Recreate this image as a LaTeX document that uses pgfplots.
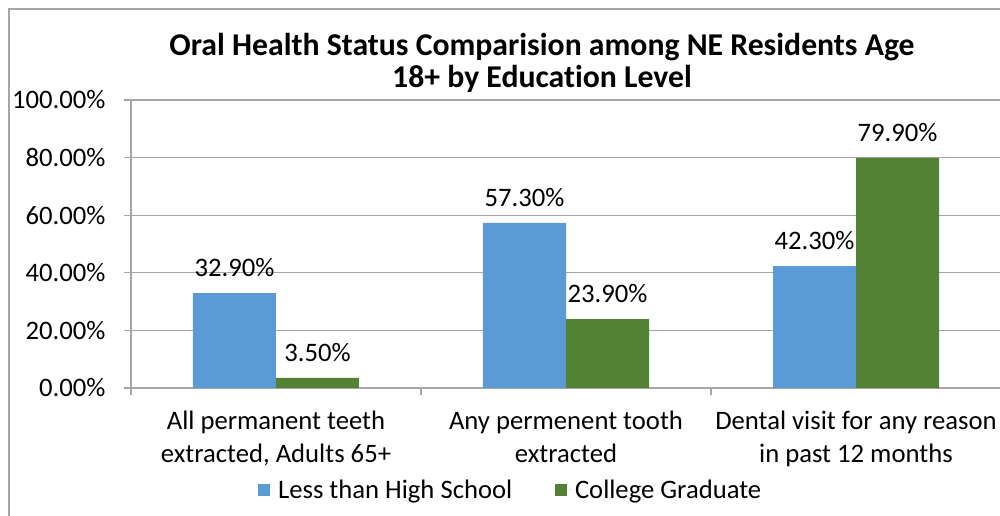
\documentclass[border=0pt]{standalone}
\usepackage{fontspec}
\setmainfont{Carlito}[Ligatures=CommonOff, Contextuals=AlternateOff]
\usepackage{pgfplots}
\pgfplotsset{compat=1.18}
\definecolor{barblue}{HTML}{5B9BD5}
\definecolor{bargreen}{HTML}{548235}
\definecolor{gridgray}{HTML}{A6A6A6}
\begin{document}
\begin{tikzpicture}
\begin{axis}[
  scale only axis, width=652.5pt, height=216pt,
  ybar=0pt, bar width=62.25pt,
  xmin=-0.5, xmax=2.5, ymin=0, ymax=100,
  xtick={0,1,2},
  xticklabels={{All permanent teeth\\extracted, Adults 65+},{Any permenent tooth\\extracted},{Dental visit for any reason\\in past 12 months}},
  major x tick style={draw=none},
  minor xtick={-0.5,0.5,1.5,2.5},
  ytick={0,20,40,60,80,100},
  axis x line*=bottom, axis y line*=left,
  axis line style={gridgray, line width=1pt, -},
  tick align=outside, tick style={gridgray, line width=1pt},
  major tick length=5pt, minor tick length=5pt,
  ymajorgrids, grid style={gridgray, line width=1pt},
  yticklabel={\pgfmathprintnumber[fixed,fixed zerofill,precision=2,assume math mode=true]{\tick}\%},
  yticklabel style={font=\fontsize{20}{23}\selectfont, inner sep=0pt, xshift=-14pt},
  xticklabel style={font=\fontsize{20}{24.75}\selectfont, align=center, inner sep=0pt, yshift=-12pt},
  nodes near coords={\pgfmathprintnumber[fixed,fixed zerofill,precision=2,assume math mode=true]{\pgfplotspointmeta}\%},
  every node near coord/.append style={font=\fontsize{20}{23}\selectfont, anchor=base, inner sep=0pt, yshift=12.4pt, text=black},
  title={Oral Health Status Comparision among NE Residents Age\\18+ by Education Level},
  title style={at={(0.4724,1.102)}, anchor=center, align=center, font=\bfseries\fontsize{23.8}{24.2}\selectfont},
  legend style={at={(0.4368,-0.354)}, anchor=center, draw=none, legend columns=2,
    font=\fontsize{20}{23}\selectfont, /tikz/every even column/.append style={column sep=30pt}},
  legend image code/.code={\fill[#1] (0pt,-4.5pt) rectangle (9pt,4.5pt); \path (9pt,0pt) -- (13pt,0pt);},
]
\addplot[fill=barblue, draw=none] coordinates {(0,32.9) (1,57.3) (2,42.3)};
\addlegendentry{Less than High School}
\addplot[fill=bargreen, draw=none] coordinates {(0,3.5) (1,23.9) (2,79.9)};
\addlegendentry{College Graduate}
\end{axis}
\draw[gridgray, line width=1pt] (-91.5pt,-150pt) rectangle (720pt,284.25pt);
\pgfresetboundingbox
\path[use as bounding box] (-98.25pt,-96pt) rectangle (651.75pt,291pt);
\end{tikzpicture}
\end{document}
